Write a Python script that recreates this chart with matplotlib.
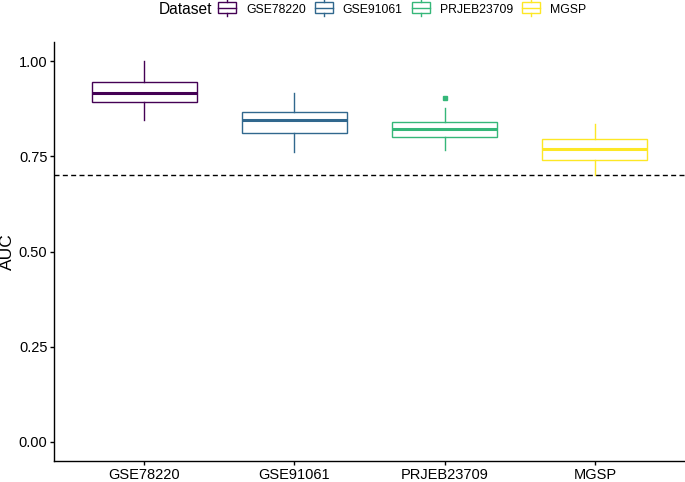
import matplotlib
matplotlib.use("Agg")
import matplotlib.pyplot as plt
from matplotlib.legend_handler import HandlerBase
from matplotlib.lines import Line2D
from matplotlib.patches import Rectangle

plt.rcParams["font.family"] = ["Liberation Sans", "DejaVu Sans"]

datasets = ["GSE78220", "GSE91061", "PRJEB23709", "MGSP"]
colors = ["#440154", "#31688E", "#35B779", "#FDE725"]
whislo = [0.844, 0.761, 0.766, 0.701]
q1 = [0.892, 0.811, 0.801, 0.741]
med = [0.916, 0.845, 0.821, 0.768]
q3 = [0.944, 0.865, 0.839, 0.796]
whishi = [1.000, 0.917, 0.877, 0.835]
fliers = [[], [], [0.903], []]
threshold = 0.70
yticks = [0.00, 0.25, 0.50, 0.75, 1.00]


class BoxKeyHandler(HandlerBase):
    # small boxplot glyph, like ggplot's legend key
    def create_artists(self, legend, orig, xd, yd, w, h, fontsize, trans):
        c = orig.get_color()
        cx = xd + w / 2
        box = Rectangle((xd, yd - h * 0.1), w, h * 1.2, facecolor="white",
                        edgecolor=c, lw=1.0, transform=trans)
        mid = Line2D([xd, xd + w], [yd + h / 2] * 2, color=c, lw=1.0, transform=trans)
        up = Line2D([cx, cx], [yd + h * 1.1, yd + h * 1.3], color=c, lw=1.0, transform=trans)
        lo = Line2D([cx, cx], [yd - h * 0.1, yd - h * 0.35], color=c, lw=1.0, transform=trans)
        return [box, mid, up, lo]


fig = plt.figure(figsize=(6.85, 4.82), dpi=100)
ax = fig.add_axes([54 / 685, 21 / 482, 631 / 685, 419 / 482])

positions = list(range(1, len(datasets) + 1))
for i, ds in enumerate(datasets):
    stats = [{"whislo": whislo[i], "q1": q1[i], "med": med[i], "q3": q3[i],
              "whishi": whishi[i], "fliers": fliers[i], "label": ds}]
    c = colors[i]
    ax.bxp(stats, positions=[positions[i]], widths=0.7, showcaps=False,
           patch_artist=True,
           boxprops=dict(facecolor="white", edgecolor=c, linewidth=1.0),
           whiskerprops=dict(color=c, linewidth=1.0),
           medianprops=dict(color=c, linewidth=2.2, solid_capstyle="butt"),
           flierprops=dict(marker="s", markersize=3.5, markerfacecolor=c,
                           markeredgecolor=c, linestyle="none"))

ax.axhline(threshold, color="black", linestyle=(0, (3.6, 2.4)), linewidth=1.0)

ax.set_xlim(0.4, len(datasets) + 0.6)
ax.set_ylim(-0.05, 1.05)
ax.set_xticks(positions)
ax.set_xticklabels(datasets, fontsize=10.5, color="black")
ax.set_yticks(yticks)
ax.set_yticklabels([f"{v:.2f}" for v in yticks], fontsize=10.5, color="black")
ax.set_ylabel("AUC", fontsize=12.5, va="center")
ax.yaxis.set_label_coords(-0.073, 0.5)
ax.set_xlabel("")
for side in ["top", "right"]:
    ax.spines[side].set_visible(False)
for side in ["left", "bottom"]:
    ax.spines[side].set_linewidth(1.0)
ax.tick_params(length=2.75, width=1.0, pad=2.0)

handles = [Line2D([], [], color=c) for c in colors]
fig.text(159 / 685, 1 - 10 / 482, "Dataset", fontsize=11.2, va="center", ha="left")
fig.legend(handles, datasets, handler_map={Line2D: BoxKeyHandler()},
           loc="center left", bbox_to_anchor=(218 / 685, 1 - 10 / 482),
           ncol=4, frameon=False, fontsize=8.8, handlelength=1.47,
           handleheight=0.85, handletextpad=0.82, columnspacing=0.74,
           borderpad=0, borderaxespad=0)

fig.savefig("out.png", dpi=100)
